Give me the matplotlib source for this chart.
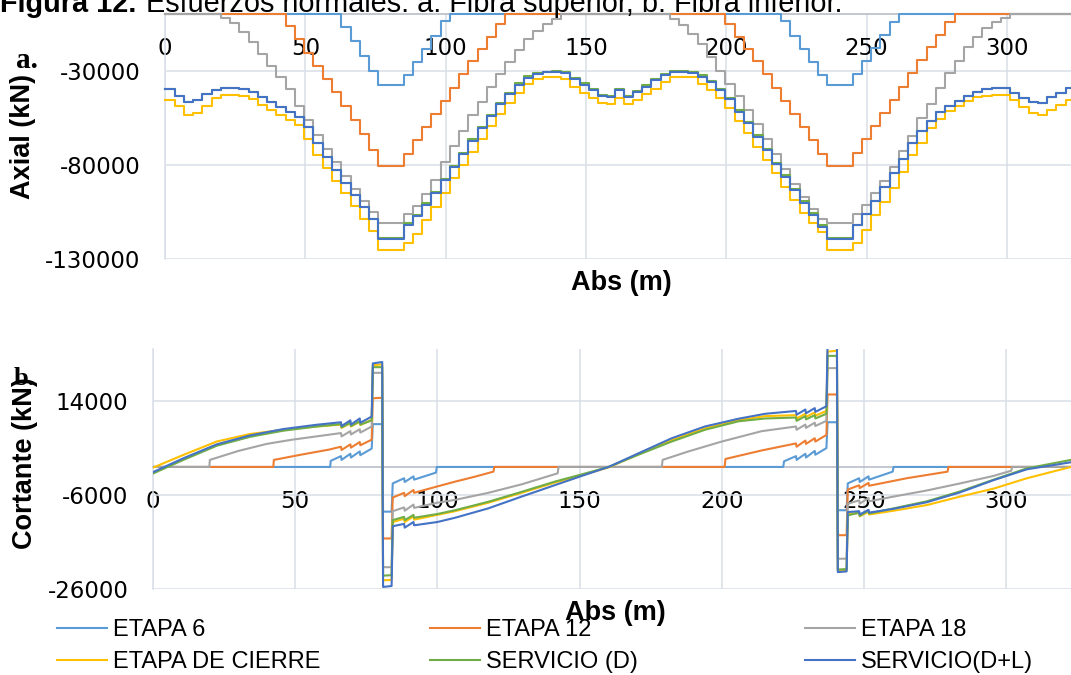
import matplotlib
matplotlib.use("Agg")
import matplotlib.pyplot as plt
from matplotlib.lines import Line2D
from matplotlib.ticker import FuncFormatter

W, H = 1071, 675
plt.rcParams['axes.unicode_minus'] = False
plt.rcParams['font.family'] = 'DejaVu Sans'

SERIES = ['ETAPA 6', 'ETAPA 12', 'ETAPA 18', 'ETAPA DE CIERRE', 'SERVICIO (D)', 'SERVICIO(D+L)']
COLORS = ['#5B9BD5', '#ED7D31', '#A5A5A5', '#FFC000', '#70AD47', '#4472C4']

XMAX = 322.8
XTICKS = [0, 50, 100, 150, 200, 250, 300]

#### a. axial force, upper fibre (value held from each station to the next) ####
ABS_A = [0.0, 3.4, 6.7, 10.0, 13.3, 16.6, 19.9, 23.2, 26.5, 29.8, 33.1, 36.4, 39.7, 43.0, 46.3, 49.6,
         52.9, 56.2, 59.5, 62.8, 66.1, 69.4, 72.7,
         76.0,
         85.0, 88.3, 91.6, 94.9, 98.2, 101.5, 104.8, 108.1, 111.4, 114.7, 118.0, 121.3, 124.6, 127.9,
         131.2, 134.5, 137.8, 141.1, 144.4, 147.7, 151.0, 154.3, 157.6, 160.5,
         163.4, 166.7, 170.0, 173.3, 176.6, 179.9, 183.2, 186.5, 189.8, 193.1, 196.4, 199.7, 203.0,
         206.3, 209.6, 212.9, 216.2, 219.5, 222.8, 226.1, 229.4, 232.7,
         236.0,
         245.0, 248.3, 251.6, 254.9, 258.2, 261.5, 264.8, 268.1, 271.4, 274.7, 278.0, 281.3, 284.6,
         287.9, 291.2, 294.5, 297.8, 301.1, 304.4, 307.7, 311.0, 314.3, 317.6, 320.9, 322.8]

AXIAL_E6 = [0] * 19 + [-7000, -14500, -22000, -30000] + \
    [-37600] + \
    [-32500, -25500, -18500, -11500, -3500] + [0] * 19 + \
    [0] * 17 + [-3500, -11500, -18500, -25500, -32500] + \
    [-37600] + \
    [-32000, -25000, -18000, -11000, -4000] + [0] * 20

AXIAL_E12 = [0] * 13 + [-6500, -13500, -20500, -27500, -34500, -41500, -48500, -56000, -63500, -72000] + \
    [-80700] + \
    [-74000, -67000, -60000, -53000, -46000, -39000, -32000, -25000, -18500, -12000, -5500] + [0] * 13 + \
    [0] * 11 + [-5500, -12000, -18500, -25000, -32000, -39000, -46000, -53000, -60000, -67000, -74000] + \
    [-80700] + \
    [-73500, -66500, -59500, -52500, -45500, -38500, -31500, -24500, -17500, -11000, -4500] + [0] * 14

AXIAL_E18 = [0] * 6 + [-2000, -5000, -9500, -15000, -21000, -27500, -33500, -40000, -48500, -56000,
                       -64000, -71500, -78500, -86000, -92500, -99000, -105000] + \
    [-110800] + \
    [-106000, -101500, -95500, -88000, -78500, -70000, -62000, -53500, -46500, -38500, -32000,
     -25500, -19000, -13500, -9000, -5500, -2500] + [0] * 7 + \
    [0] * 5 + [-2500, -6000, -10500, -16000, -23000, -30000, -37000, -43500, -51000, -58500, -66500,
               -74000, -82000, -90000, -97000, -103500, -108500] + \
    [-110800] + \
    [-106000, -101000, -95000, -88500, -81000, -72500, -64500, -55000, -47500, -39000, -31500,
     -25000, -17500, -12000, -7500, -4500, -2000] + [0] * 8

AXIAL_CIERRE = [-45500, -49000, -53500, -52500, -48500, -44500, -43000, -43000, -43200, -45000, -48000,
                -51000, -53500, -56000, -59000, -66000, -74500, -81500, -88500, -95000, -102000, -108500,
                -115000,
                -125000,
                -121600, -116600, -109200, -102100, -94700, -87100, -80000, -73000, -66400, -59400, -53200,
                -47000, -41700, -37100, -34300, -33200, -33200, -34600, -38900, -41700, -44700, -47000,
                -47500, -44500,
                -47500, -45500, -42500, -39500, -36000, -33500, -33200, -33600, -37100, -40300, -44700,
                -50000, -56700, -63300, -70300, -77400, -84500, -91500, -98600, -105700, -111000, -115400,
                -125000,
                -121600, -114500, -106500, -99500, -92400, -83600, -74700, -68200, -60600, -55700, -51200,
                -48600, -46100, -44200, -43300, -43100, -43100, -45600, -49100, -52700, -53500, -50900,
                -48200, -45600, -45600]

AXIAL_D = [-40000, -43500, -46500, -45500, -42500, -40300, -39400, -39400, -39600, -41200, -44200,
           -46600, -49100, -51800, -54800, -59700, -68200, -75600, -82700, -89400, -96000, -102500,
           -108800,
           -118500,
           -111000, -106300, -100400, -94300, -87200, -80500, -73400, -66300, -59800, -53300, -47100,
           -41800, -36800, -33000, -31200, -30500, -30300, -31000, -33800, -36800, -39800, -42800,
           -43400, -40000,
           -43400, -40800, -37800, -34300, -31800, -30400, -30400, -30600, -32500, -35500, -39500,
           -44400, -51000, -57200, -64200, -71300, -78700, -85400, -92500, -99200, -105700, -111900,
           -118500,
           -111800, -106000, -99000, -91500, -84500, -76900, -68600, -61800, -56500, -52100, -48600,
           -46000, -43500, -41200, -40000, -39400, -39200, -41700, -44400, -46600, -47000, -44200,
           -41700, -39400, -39400]

AXIAL_DL = [-40000, -43500, -46500, -45500, -42500, -40300, -39400, -39400, -39600, -41200, -44200,
            -46600, -49100, -51800, -54800, -59700, -68200, -75600, -82700, -89400, -96000, -102500,
            -108800,
            -119500,
            -111800, -107100, -101200, -95100, -88000, -81300, -74200, -67100, -60600, -54100, -47900,
            -42600, -37600, -33700, -31800, -30900, -30700, -31500, -34500, -37500, -40500, -43500,
            -44000, -40500,
            -44000, -41500, -38500, -35000, -32500, -30900, -30900, -31100, -33200, -36200, -40300,
            -45200, -51800, -58000, -65000, -72100, -79500, -86200, -93300, -100000, -106500, -112700,
            -119500,
            -111800, -106000, -99000, -91500, -84500, -76900, -68600, -61800, -56500, -52100, -48600,
            -46000, -43500, -41200, -40000, -39400, -39200, -41700, -44400, -46600, -47000, -44200,
            -41700, -39400, -39400]

#### b. shear force ####
CORT_E6_X = [0, 62.3, 62.5, 66.1, 66.3, 69.4, 69.6, 72.7, 72.9, 76.9, 77.3, 80.6, 80.9, 83.9, 84.3,
             88.3, 88.5, 91.6, 91.8, 99.5, 99.8, 221.6, 221.9, 226.1, 226.3, 229.4, 229.6, 232.7, 232.9,
             236.8, 237.2, 240.5, 240.8, 243.9, 244.3, 248.3, 248.5, 251.6, 251.8, 260.1, 260.4, 322.8]
CORT_E6 = [0, 0, 1300, 2300, 1500, 2800, 2000, 3300, 2500, 3900, 9100, 9100, -9500, -9500, -3500,
           -2400, -3200, -2000, -2700, -1200, 0, 0, 1200, 2300, 1500, 2800, 2000, 3400, 2600,
           4000, 9500, 9500, -9200, -9200, -3500, -2400, -3200, -2000, -2700, -1000, 0, 0]

CORT_E12_X = [0, 42.3, 42.5, 52.0, 62.0, 66.1, 66.3, 69.4, 69.6, 72.7, 72.9, 76.9, 77.3, 80.6, 80.9,
              83.9, 84.3, 88.3, 88.5, 91.6, 91.8, 99.6, 106.2, 113.0, 119.7, 120.0, 201.0, 201.3,
              214.0, 226.1, 226.3, 229.4, 229.6, 232.7, 232.9, 236.8, 237.2, 240.5, 240.8, 243.9,
              244.3, 248.3, 248.5, 251.6, 251.8, 265.0, 279.4, 279.7, 322.8]
CORT_E12 = [0, 0, 1500, 2600, 3700, 4300, 3600, 4800, 4100, 5300, 4600, 5800, 14600, 14700, -15200,
            -15200, -6500, -5500, -6200, -4900, -5500, -4200, -3130, -2100, -1000, 0, 0, 1700,
            3500, 5000, 4300, 5600, 4900, 6100, 5400, 6800, 15400, 15400, -14500, -14500,
            -4800, -3900, -4500, -3400, -4000, -2400, -1000, 0, 0]

CORT_E18_X = [0, 19.8, 20.0, 30.0, 40.0, 49.0, 60.0, 66.1, 66.3, 69.4, 69.6, 72.7, 72.9, 76.9, 77.3,
              80.6, 80.9, 83.9, 84.3, 88.3, 88.5, 91.6, 91.8, 100.0, 106.2, 117.9, 129.6, 142.3, 142.6,
              178.9, 179.2, 188.3, 200.0, 214.0, 226.1, 226.3, 229.4, 229.6, 232.7, 232.9, 236.8,
              237.2, 240.5, 240.8, 243.9, 244.3, 248.3, 248.5, 251.6, 251.8, 260.4, 272.1, 283.8,
              295.6, 301.8, 302.1, 322.8]
CORT_E18 = [0, 0, 1500, 3400, 4900, 5800, 6700, 7200, 6500, 7600, 6900, 8000, 7300, 8600, 20000,
            20000, -21300, -21300, -9400, -8600, -9300, -8000, -8700, -7600, -7000, -5500, -3700, -1350, 0,
            0, 1500, 3300, 5400, 7600, 8600, 7900, 9000, 8300, 9400, 8700, 9800,
            21000, 21000, -19500, -19500, -7800, -7100, -7800, -6600, -7300, -6300, -5000, -3500,
            -1900, -800, 0, 0]

CORT_CIERRE_X = [0, 10.7, 22.4, 34.1, 45.8, 57.6, 66.1, 66.3, 69.4, 69.6, 72.7, 72.9, 76.9, 77.3, 80.6,
                 80.9, 83.9, 84.3, 88.3, 88.5, 91.6, 91.8, 106.2, 117.9, 129.6, 141.4, 150.0, 160.2,
                 170.7, 182.4, 194.1, 205.9, 215.3, 226.1, 226.3, 229.4, 229.6, 232.7, 232.9, 236.8,
                 237.2, 240.5, 240.8, 243.9, 244.3, 248.3, 248.5, 251.6, 251.8, 260.4, 272.1, 283.8,
                 295.6, 307.3, 322.8]
CORT_CIERRE = [-150, 2560, 5400, 7000, 7900, 8600, 9000, 8300, 9300, 8600, 9600, 8900, 10000, 21600, 21800,
               -24100, -24000, -11700, -11000, -11700, -10500, -11200, -9400, -7600, -5500, -3300, -1900, -100,
               2700, 5700, 8200, 9950, 10800, 11000, 10300, 11300, 10600, 11600, 10900, 11900,
               24500, 24700, -22000, -21900, -10000, -9800, -10500, -9500, -10100, -9300, -8100, -6300,
               -4600, -2400, 0]

CORT_SERV_X = [0, 10.7, 22.4, 34.1, 45.8, 57.6, 66.1, 66.3, 69.4, 69.6, 72.7, 72.9, 76.9, 77.3, 80.6,
               80.9, 83.9, 84.3, 88.3, 88.5, 91.6, 91.8, 100.0, 106.2, 117.9, 129.6, 141.4, 150.0, 160.2,
               170.7, 182.4, 194.1, 205.9, 215.3, 226.1, 226.3, 229.4, 229.6, 232.7, 232.9, 236.8,
               237.2, 240.5, 240.8, 243.9, 244.3, 248.3, 248.5, 251.6, 251.8, 260.4, 272.1, 283.8,
               295.6, 307.3, 322.8]
CORT_D = [-1400, 1500, 4500, 6400, 7700, 8600, 9100, 8400, 9400, 8700, 9700, 9000, 9900, 21200, 21200,
          -23100, -23000, -11300, -10600, -11300, -10200, -10800, -10000, -9200, -7400, -5300, -3100, -1700, 0,
          2600, 5400, 7900, 9700, 10300, 10500, 9800, 10800, 10100, 11000, 10300, 11300,
          23600, 23600, -21800, -21700, -10300, -9700, -10400, -9300, -9900, -8800, -7300, -5200,
          -2700, -300, 1500]
CORT_DL = [-1100, 1850, 4800, 6700, 8050, 8970, 9500, 8700, 9900, 9000, 10300, 9400, 10700, 22000, 22300,
           -25500, -25300, -12600, -12100, -12900, -11700, -12400, -11700, -10800, -8800, -6300, -3850, -2060, 0,
           2900, 6100, 8600, 10250, 11300, 11900, 11100, 12200, 11400, 12500, 11700, 12900,
           26500, 26500, -22350, -22200, -9600, -9400, -10100, -9100, -9700, -8900, -7500, -5400,
           -2800, -500, 1000]

GRID = '#D9DEE7'
AXIS = '#B3B8C2'
LABEL_FONT = dict(fontfamily='Liberation Sans', fontweight='bold', fontsize=19.5)


def style_axes(ax, yticks, ylim):
    ax.set_xlim(0, XMAX)
    ax.set_ylim(*ylim)
    ax.set_xticks(XTICKS)
    ax.set_yticks(yticks)
    ax.yaxis.set_major_formatter(FuncFormatter(lambda v, p: '%d' % v))
    ax.grid(True, color=GRID, lw=1.1)
    ax.set_axisbelow(True)
    ax.spines['top'].set_visible(False)
    ax.spines['right'].set_visible(False)
    ax.spines['left'].set_color(GRID)
    ax.spines['left'].set_linewidth(1.1)
    ax.spines['left'].set_zorder(1)
    # x axis crosses at zero, labels hang below it
    ax.spines['bottom'].set_position(('data', 0))
    ax.spines['bottom'].set_color(AXIS)
    ax.spines['bottom'].set_linewidth(1.1)
    ax.spines['bottom'].set_zorder(1)
    ax.tick_params(length=0, labelsize=16.5, colors='black')
    ax.tick_params(axis='x', pad=16.3)
    ax.tick_params(axis='y', pad=17.8)


fig = plt.figure(figsize=(W / 100, H / 100), dpi=100)
ax1 = fig.add_axes([165 / W, 1 - 259.3 / H, 906 / W, 245.3 / H])
ax2 = fig.add_axes([153 / W, 1 - 589.3 / H, 918 / W, 240 / H])

style_axes(ax1, [-130000, -80000, -30000], (-130000, 0))
style_axes(ax2, [-26000, -6000, 14000], (-26000, 25000))

axial = [AXIAL_E6, AXIAL_E12, AXIAL_E18, AXIAL_CIERRE, AXIAL_D, AXIAL_DL]
for vals, color in zip(axial, COLORS):
    ax1.step(ABS_A, vals, where='post', color=color, lw=1.5, clip_on=False, zorder=2)

shear = [(CORT_E6_X, CORT_E6), (CORT_E12_X, CORT_E12), (CORT_E18_X, CORT_E18),
         (CORT_CIERRE_X, CORT_CIERRE), (CORT_SERV_X, CORT_D), (CORT_SERV_X, CORT_DL)]
for (xs, vals), color in zip(shear, COLORS):
    ax2.plot(xs, vals, color=color, lw=1.5, solid_joinstyle='round', zorder=2)

# axis titles
ax1.set_ylabel('Axial (kN)', **LABEL_FONT)
ax1.yaxis.set_label_coords((23 - 165) / 906, 0.5)
ax1.yaxis.label.set_va('center')
ax2.set_ylabel('Cortante (kN)', **LABEL_FONT)
ax2.yaxis.set_label_coords((25 - 153) / 918, 0.528)
ax2.yaxis.label.set_va('center')

ax1.set_xlabel('Abs (m)', **LABEL_FONT)
ax1.xaxis.set_label_coords(0.5 + 3 / 906, (259.3 - 289.5) / 245.3)
ax1.xaxis.label.set_va('baseline')
ax2.set_xlabel('Abs (m)', **LABEL_FONT)
ax2.xaxis.set_label_coords(0.5 + 3 / 918, (589.3 - 619.5) / 240)
ax2.xaxis.label.set_va('baseline')

fig.text(16 / W, 1 - 68.5 / H, 'a.', fontfamily='Liberation Serif', fontweight='bold',
         fontsize=21, va='baseline', ha='left')
fig.text(14 / W, 1 - 385 / H, 'b.', fontfamily='Liberation Serif', fontweight='bold',
         fontsize=19, va='baseline', ha='left')

# caption runs off the top edge
fig.text(0, 1 - 12 / H, 'Figura 12.', fontfamily='Liberation Sans', fontweight='bold',
         fontsize=20.8, va='baseline', ha='left')
fig.text(146 / W, 1 - 12 / H, 'Esfuerzos normales. a. Fibra superior, b. Fibra inferior.',
         fontfamily='Liberation Sans', fontsize=20.8, va='baseline', ha='left')

# legend: three columns, two rows
handles = [Line2D([], [], color=c, lw=1.5) for c in COLORS]
col_x = [57, 430, 805]
for i, x0 in enumerate(col_x):
    fig.legend(handles=[handles[i], handles[i + 3]], labels=[SERIES[i], SERIES[i + 3]],
               loc='upper left', bbox_to_anchor=(x0 / W, 1 - 619 / H), frameon=False,
               prop={'family': 'Liberation Sans', 'size': 17},
               handlelength=2.12, handletextpad=0.25, borderpad=0, borderaxespad=0,
               labelspacing=0.42)

fig.savefig('out.png', dpi=100)
